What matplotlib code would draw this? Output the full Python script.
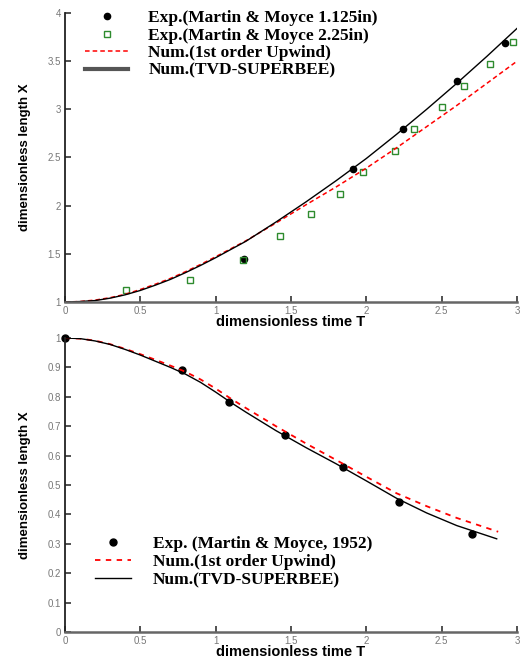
import matplotlib
matplotlib.use("Agg")
from matplotlib import pyplot as plt
import numpy as np

# --- top panel: dam break front position ---
t_super = [0, 0.1, 0.2, 0.3, 0.4, 0.5, 0.6, 0.7, 0.8, 0.9, 1.0, 1.2, 1.4, 1.6, 1.8, 2.0, 2.2, 2.4, 2.6, 2.8, 3.0]
x_super = [1.0, 1.005, 1.015, 1.04, 1.075, 1.12, 1.175, 1.235, 1.305, 1.38, 1.46, 1.63, 1.83, 2.04,
           2.26, 2.49, 2.74, 3.00, 3.27, 3.55, 3.84]
t_upw = [0, 0.1, 0.2, 0.3, 0.4, 0.5, 0.6, 0.7, 0.8, 0.9, 1.0, 1.2, 1.4, 1.6, 1.8, 2.0, 2.2, 2.4, 2.6, 2.8, 3.0]
x_upw = [1.0, 1.005, 1.02, 1.045, 1.08, 1.13, 1.185, 1.245, 1.315, 1.39, 1.47, 1.635, 1.82, 2.01,
         2.195, 2.39, 2.60, 2.82, 3.04, 3.27, 3.50]
t_exp1 = [1.19, 1.91, 2.245, 2.60, 2.92]
x_exp1 = [1.45, 2.38, 2.80, 3.29, 3.69]
t_exp2 = [0.405, 0.83, 1.18, 1.43, 1.63, 1.825, 1.98, 2.19, 2.315, 2.505, 2.65, 2.82, 2.97]
x_exp2 = [1.12, 1.23, 1.44, 1.685, 1.91, 2.12, 2.35, 2.57, 2.80, 3.02, 3.24, 3.47, 3.70]

# --- bottom panel: column height ---
t_exp_b = [0, 0.774, 1.088, 1.46, 1.843, 2.218, 2.70]
x_exp_b = [1.0, 0.891, 0.783, 0.670, 0.562, 0.443, 0.333]
t_super_b = [0, 0.1, 0.2, 0.3, 0.4, 0.5, 0.6, 0.7, 0.8, 0.9, 1.0, 1.1, 1.2, 1.4, 1.6, 1.8, 2.0, 2.2, 2.4, 2.6, 2.865]
x_super_b = [1.0, 0.998, 0.99, 0.978, 0.961, 0.942, 0.921, 0.900, 0.877, 0.849, 0.816, 0.781, 0.748,
             0.685, 0.627, 0.572, 0.514, 0.455, 0.405, 0.362, 0.317]
t_upw_b = [0, 0.1, 0.2, 0.3, 0.4, 0.5, 0.6, 0.7, 0.8, 0.9, 1.0, 1.1, 1.2, 1.4, 1.6, 1.8, 2.0, 2.2, 2.4, 2.6, 2.875]
x_upw_b = [1.0, 0.998, 0.991, 0.979, 0.963, 0.945, 0.926, 0.906, 0.885, 0.859, 0.828, 0.794, 0.762,
           0.700, 0.641, 0.585, 0.528, 0.472, 0.428, 0.388, 0.341]

xticks = [0, 0.5, 1, 1.5, 2, 2.5, 3]
xticklabels = ["0", "0.5", "1", "1.5", "2", "2.5", "3"]
yticks_top = [1, 1.5, 2, 2.5, 3, 3.5, 4]
yticklabels_top = ["1", "1.5", "2", "2.5", "3", "3.5", "4"]
yticks_bot = [0, 0.1, 0.2, 0.3, 0.4, 0.5, 0.6, 0.7, 0.8, 0.9, 1]
yticklabels_bot = ["0", "0.1", "0.2", "0.3", "0.4", "0.5", "0.6", "0.7", "0.8", "0.9", "1"]

plt.rcParams['font.family'] = ['Liberation Sans', 'DejaVu Sans']

fig = plt.figure(figsize=(5.21, 6.62), dpi=100)
ax1 = fig.add_axes([0.1248, 0.5438, 0.8676, 0.4366])
ax2 = fig.add_axes([0.1248, 0.0453, 0.8676, 0.4441])

legfont = {'family': 'Liberation Serif', 'size': 12.5, 'weight': 'bold'}


def style(ax, yt, ytl, ylim):
    ax.set_xlim(0, 3)
    ax.set_ylim(*ylim)
    ax.set_xticks(xticks)
    ax.set_xticklabels(xticklabels)
    ax.set_yticks(yt)
    ax.set_yticklabels(ytl)
    for s in ['top', 'right']:
        ax.spines[s].set_visible(False)
    ax.spines['left'].set_color('#222222')
    ax.spines['left'].set_linewidth(1.3)
    ax.spines['bottom'].set_color('#666666')
    ax.spines['bottom'].set_linewidth(1.8)
    ax.tick_params(direction='in', length=4, width=1.2, colors='#333333',
                   labelcolor='#777777', labelsize=7, pad=3)
    ax.set_xlabel("dimensionless time T", fontsize=10.5, fontweight='bold', labelpad=-1)
    ax.set_ylabel("dimensionless length X", fontsize=9.5, fontweight='bold')
    ax.yaxis.set_label_coords(-0.076, 0.5)


ax1.plot(t_exp1, x_exp1, 'o', color='black', ms=4.5, label="Exp.(Martin & Moyce 1.125in)", clip_on=False)
ax1.plot(t_exp2, x_exp2, 's', mfc='none', mec='#2e8b2e', mew=1.0, ms=5, label="Exp.(Martin & Moyce 2.25in)", clip_on=False)
ax1.plot(t_upw, x_upw, '--', color='red', lw=1.1, dashes=(3, 2), label="Num.(1st order Upwind)")
ax1.plot(t_super, x_super, '-', color='black', lw=1.0, label="Num.(TVD-SUPERBEE)")
style(ax1, yticks_top, yticklabels_top, (1, 4))
leg1 = ax1.legend(loc='upper left', bbox_to_anchor=(0.044, 1.01), frameon=False, prop=legfont,
                  borderaxespad=0, borderpad=0, handlelength=2.5, handletextpad=1.15,
                  labelspacing=0.08, numpoints=1)
leg1.get_lines()[3].set_linewidth(3)
leg1.get_lines()[3].set_color('#555555')

ax2.plot(t_exp_b, x_exp_b, 'o', color='black', ms=5, label="Exp. (Martin & Moyce, 1952)", clip_on=False)
ax2.plot(t_upw_b, x_upw_b, '--', color='red', lw=1.3, dashes=(3, 3), label="Num.(1st order Upwind)")
ax2.plot(t_super_b, x_super_b, '-', color='black', lw=1.0, label="Num.(TVD-SUPERBEE)")
style(ax2, yticks_bot, yticklabels_bot, (0, 1))
ax2.legend(loc='upper left', bbox_to_anchor=(0.066, 0.327), frameon=False, prop=legfont,
           borderaxespad=0, borderpad=0, handlelength=2.07, handletextpad=1.26,
           labelspacing=0.12, numpoints=1)

fig.savefig("out.png", dpi=100)
